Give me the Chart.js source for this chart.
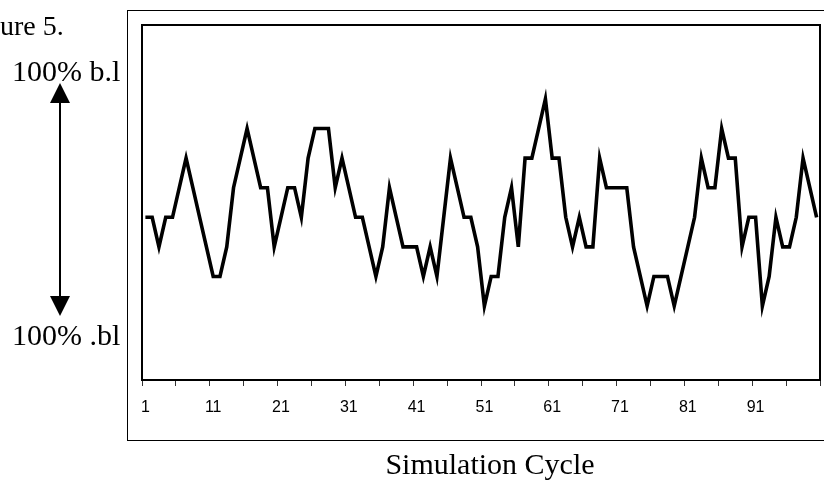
<!DOCTYPE html>
<html><head><meta charset="utf-8">
<script src="https://cdn.jsdelivr.net/npm/chart.js@4/dist/chart.umd.min.js"></script>
<style>html,body{margin:0;padding:0;background:#fff;overflow:hidden}#wrap{position:relative;width:824px;height:481px}</style>
</head><body><div id="wrap"><canvas id="c" width="824" height="481"></canvas></div>
<script>
// ---- data ----
const cycles = Array.from({length: 100}, (_, i) => String(i + 1));
const shownLabels = ['1', '11', '21', '31', '41', '51', '61', '71', '81', '91'];
const level = [
  3,3,2,3,3,4,5,4,3,2,
  1,1,2,4,5,6,5,4,4,2,
  3,4,4,3,5,6,6,6,4,5,
  4,3,3,2,1,2,4,3,2,2,
  2,1,2,1,3,5,4,3,3,2,
  0,1,1,3,4,2,5,5,6,7,
  5,5,3,2,3,2,2,5,4,4,
  4,4,2,1,0,1,1,1,0,1,
  2,3,5,4,4,6,5,5,2,3,
  3,0,1,3,2,2,3,5,4,3
];
const yRange = [-2.5, 9.5];
const textFigure = 'ure 5.';
const textHigh = '100% b.l';
const textLow = '100% .bl';
const xTitle = 'Simulation Cycle';

const decor = {
  id: 'decor',
  afterDraw(chart) {
    const ctx = chart.ctx, a = chart.chartArea;
    ctx.save();
    ctx.strokeStyle = '#000';
    // inner plot box
    ctx.lineWidth = 2;
    ctx.strokeRect(a.left, a.top, a.right - a.left, a.bottom - a.top);
    // outer frame
    ctx.lineWidth = 1;
    ctx.strokeRect(127.5, 10.5, 760, 430);
    // texts
    ctx.fillStyle = '#000';
    ctx.textBaseline = 'alphabetic';
    ctx.textAlign = 'left';
    ctx.font = '28px "Liberation Serif", "Times New Roman", serif';
    ctx.fillText(textFigure, 0, 35);
    ctx.font = '30px "Liberation Serif", "Times New Roman", serif';
    ctx.fillText(textHigh, 12, 81);
    ctx.fillText(textLow, 12, 345);
    ctx.textAlign = 'center';
    ctx.fillText(xTitle, 490, 474);
    // double arrow
    ctx.lineWidth = 2;
    ctx.beginPath();
    ctx.moveTo(60, 100); ctx.lineTo(60, 299);
    ctx.stroke();
    ctx.beginPath();
    ctx.moveTo(60, 83); ctx.lineTo(50, 103); ctx.lineTo(70, 103); ctx.closePath();
    ctx.fill();
    ctx.beginPath();
    ctx.moveTo(60, 316); ctx.lineTo(50, 296); ctx.lineTo(70, 296); ctx.closePath();
    ctx.fill();
    ctx.restore();
  }
};

new Chart(document.getElementById('c'), {
  type: 'line',
  data: {
    labels: cycles,
    datasets: [{
      data: level,
      borderColor: '#000',
      borderWidth: 3.6,
      pointRadius: 0,
      tension: 0,
      fill: false,
      borderJoinStyle: 'miter'
    }]
  },
  options: {
    responsive: false,
    animation: false,
    devicePixelRatio: 1,
    layout: { padding: { left: 142, top: 25, right: 4, bottom: 0 } },
    plugins: { legend: { display: false }, tooltip: { enabled: false } },
    scales: {
      x: {
        offset: true,
        grid: {
          offset: true,
          drawOnChartArea: false,
          drawTicks: true,
          tickLength: 6,
          lineWidth: 1,
          color: (c) => (c.index === undefined || c.index % 5 === 0) ? '#333' : 'rgba(0,0,0,0)'
        },
        border: { display: false },
        ticks: {
          autoSkip: false,
          maxRotation: 0,
          minRotation: 0,
          padding: 12,
          color: '#000',
          font: { family: '"Liberation Sans", Arial, sans-serif', size: 16 },
          callback: (v, i) => shownLabels.includes(cycles[i]) ? cycles[i] : ''
        },
        afterFit: (s) => { s.height = 101; s.paddingLeft = 0; s.paddingRight = 0; }
      },
      y: { display: false, min: yRange[0], max: yRange[1] }
    }
  },
  plugins: [decor]
});
</script>
</body></html>
